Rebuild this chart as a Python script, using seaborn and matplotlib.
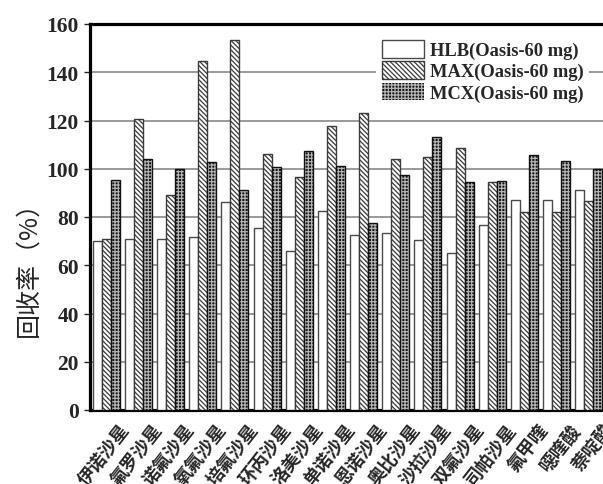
import numpy as np
import pandas as pd
import matplotlib
matplotlib.use("Agg")
import matplotlib.pyplot as plt
import matplotlib.transforms as mtransforms
import seaborn as sns
from matplotlib.patches import Rectangle, Patch

categories = ["伊诺沙星", "氟罗沙星", "诺氟沙星", "氧氟沙星", "培氟沙星", "环丙沙星",
              "洛美沙星", "单诺沙星", "恩诺沙星", "奥比沙星", "沙拉沙星", "双氟沙星",
              "司帕沙星", "氟甲喹", "噁喹酸", "萘啶酸"]
series = ["HLB(Oasis-60 mg)", "MAX(Oasis-60 mg)", "MCX(Oasis-60 mg)"]
hlb = [70.2, 70.9, 70.9, 71.6, 86.1, 75.4, 66.0, 82.5, 72.5, 73.2, 70.6, 65.1, 76.8, 87.0, 87.0, 91.3]
max_vals = [70.9, 120.6, 89.1, 144.8, 153.4, 106.1, 96.4, 117.8, 123.1, 104.0, 105.0, 108.5, 94.6, 82.2, 82.2, 86.8]
mcx = [95.3, 104.0, 99.9, 102.7, 91.2, 100.6, 107.5, 101.1, 77.4, 97.4, 113.3, 94.6, 95.0, 105.7, 103.1, 99.9]
yticks = [0, 20, 40, 60, 80, 100, 120, 140, 160]

df = pd.DataFrame({
    "cat": categories * 3,
    "series": np.repeat(series, len(categories)),
    "val": hlb + max_vals + mcx,
})

sns.set_style("white")
plt.rcParams["font.family"] = ["Liberation Serif", "Noto Sans CJK SC"]
plt.rcParams["hatch.linewidth"] = 0.9

MAX_HATCH = "\\" * 7
MCX_HATCH = "+" * 5

fig = plt.figure(figsize=(6.03, 4.85), dpi=100)
ax = fig.add_axes([90 / 603, 74 / 485, 515 / 603, 386 / 485])

sns.barplot(data=df, x="cat", y="val", hue="series", hue_order=series, order=categories,
            palette=["white", "white", "#151515"], width=0.84, gap=0, saturation=1,
            errorbar=None, legend=False, ax=ax, zorder=3)

for b in ax.containers[0]:
    b.set_edgecolor("#4a4a4a"); b.set_linewidth(1.0)
for b in ax.containers[1]:
    b.set_hatch(MAX_HATCH); b.set_edgecolor("#3a3a3a"); b.set_linewidth(1.0)
for b in ax.containers[2]:
    b.set_hatch(MCX_HATCH); b.set_edgecolor("#b5b5b5"); b.set_linewidth(0)
    ax.add_patch(Rectangle(b.get_xy(), b.get_width(), b.get_height(), fill=False,
                           edgecolor="#111111", linewidth=1.0, zorder=4))

ax.set_xlim(-0.5, len(categories) - 0.5)
ax.set_ylim(0, 160)
ax.set_yticks(yticks)
ax.yaxis.grid(True, color="#9a9a9a", linewidth=1.4, zorder=0)
ax.set_axisbelow(True)
for s in ["left", "bottom", "top", "right"]:
    ax.spines[s].set_linewidth(2.3)
    ax.spines[s].set_color("black")

ax.tick_params(axis="y", labelsize=15.5, length=4, width=1, pad=4, direction="out", left=True)
for t in ax.get_yticklabels():
    t.set_fontweight("bold")
ax.tick_params(axis="x", length=0, pad=7)
ax.set_xticks(range(len(categories)))
ax.set_xticklabels(categories, rotation=52, ha="right", va="top", rotation_mode="anchor",
                   fontsize=13, fontfamily=["Noto Sans CJK SC"], fontweight="bold")
offset = mtransforms.ScaledTranslation(13 / 100, 0, fig.dpi_scale_trans)
for t in ax.get_xticklabels():
    t.set_transform(t.get_transform() + offset)

ax.set_xlabel("")
ax.set_ylabel("回收率（%）", fontsize=18, fontfamily=["Noto Sans CJK SC"])
ax.yaxis.set_label_coords(-0.095, 0.383)

handles = [
    Patch(facecolor="white", edgecolor="#4a4a4a", linewidth=1.0, label=series[0]),
    Patch(facecolor="white", edgecolor="#3a3a3a", hatch=MAX_HATCH, linewidth=1.0, label=series[1]),
    Patch(facecolor="#151515", edgecolor="#b5b5b5", hatch=MCX_HATCH, linewidth=0, label=series[2]),
]
leg = fig.legend(handles=handles, loc="upper left", bbox_to_anchor=(367 / 603, 1 - 26 / 485),
                 prop={"family": "Liberation Serif", "weight": "bold", "size": 13.3},
                 handlelength=2.3, handleheight=1.1, labelspacing=0.12, handletextpad=0.3,
                 borderpad=0.3, frameon=True, fancybox=False, framealpha=1)
leg.get_frame().set_edgecolor("none")
leg.get_frame().set_facecolor("white")

fig.savefig("out.png", dpi=100)
